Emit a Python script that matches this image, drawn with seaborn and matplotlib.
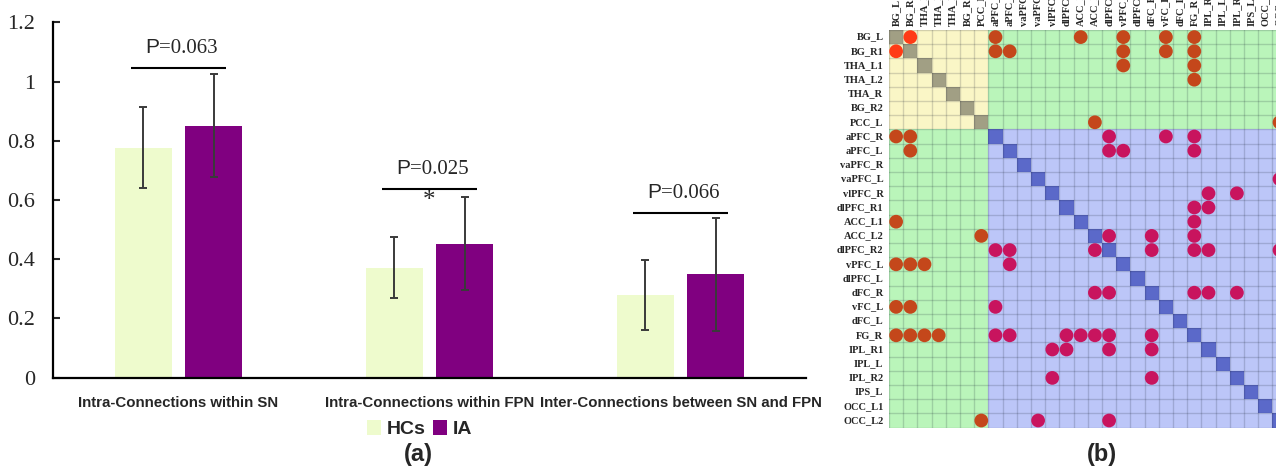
import numpy as np
import pandas as pd
import matplotlib
matplotlib.use("Agg")
import matplotlib.pyplot as plt
from matplotlib.colors import ListedColormap
import seaborn as sns

# ---------------- panel (a): mean connection strength per group ----------------
categories = [
    "Intra-Connections within SN",
    "Intra-Connections within FPN",
    "Inter-Connections between SN and FPN",
]
groups = ["HCs", "IA"]
hcs_mean = [0.777, 0.372, 0.279]
hcs_sd = [0.136, 0.104, 0.117]
ia_mean = [0.851, 0.453, 0.349]
ia_sd = [0.173, 0.157, 0.190]
p_values = ["0.063", "0.025", "0.066"]
significant = [False, True, False]
y_ticks = [0, 0.2, 0.4, 0.6, 0.8, 1.0, 1.2]
y_tick_labels = ["0", "0.2", "0.4", "0.6", "0.8", "1", "1.2"]

# ---------------- panel (b): connectivity matrix ----------------
sn_nodes = ["BG_L", "BG_R1", "THA_L1", "THA_L2", "THA_R", "BG_R2", "PCC_L"]
fpn_nodes = ["aPFC_R", "aPFC_L", "vaPFC_R", "vaPFC_L", "vlPFC_R", "dlPFC_R1",
             "ACC_L1", "ACC_L2", "dlPFC_R2", "vPFC_L", "dlPFC_L", "dFC_R",
             "vFC_L", "dFC_L", "FG_R", "IPL_R1", "IPL_L", "IPL_R2", "IPS_L",
             "OCC_L1", "OCC_L2"]
edge_from = ["BG_L", "BG_L", "BG_L", "BG_L", "BG_L", "BG_L",
             "BG_R1", "BG_R1", "BG_R1", "BG_R1", "BG_R1",
             "THA_L1", "THA_L1", "THA_L2", "PCC_L", "PCC_L",
             "aPFC_R", "aPFC_R", "aPFC_R", "aPFC_L", "aPFC_L", "aPFC_L",
             "vaPFC_L", "vlPFC_R", "vlPFC_R", "dlPFC_R1", "dlPFC_R1", "ACC_L1",
             "ACC_L2", "ACC_L2", "ACC_L2",
             "dlPFC_R2", "dlPFC_R2", "dlPFC_R2", "dlPFC_R2",
             "dFC_R", "dFC_R", "dFC_R"]
edge_to = ["BG_R1", "aPFC_R", "ACC_L1", "vPFC_L", "vFC_L", "FG_R",
           "aPFC_R", "aPFC_L", "vPFC_L", "vFC_L", "FG_R",
           "vPFC_L", "FG_R", "FG_R", "ACC_L2", "OCC_L2",
           "dlPFC_R2", "vFC_L", "FG_R", "dlPFC_R2", "vPFC_L", "FG_R",
           "OCC_L2", "IPL_R1", "IPL_R2", "FG_R", "IPL_R1", "FG_R",
           "dlPFC_R2", "dFC_R", "FG_R",
           "dFC_R", "FG_R", "IPL_R1", "OCC_L2",
           "FG_R", "IPL_R1", "IPL_R2"]

# ---------------- styling ----------------
sns.set_style("white")
plt.rcParams["font.family"] = ["Liberation Sans", "DejaVu Sans"]
SANS = "Liberation Sans"
SERIF = "Liberation Serif"

hc_color = "#EEFBCD"
ia_color = "#800080"
err_color = "#3A3A3A"

fig = plt.figure(figsize=(12.76, 4.72), dpi=100)
W, H = 1276.0, 472.0

# ================= panel (a) =================
ax1 = fig.add_axes([53 / W, 1 - 377.7 / H, 753 / W, 355.4 / H])

bars = pd.DataFrame({
    "category": categories * 2,
    "group": [groups[0]] * 3 + [groups[1]] * 3,
    "value": hcs_mean + ia_mean,
})
sns.barplot(data=bars, x="category", y="value", hue="group",
            palette=[hc_color, ia_color], width=0.56, gap=0.19,
            errorbar=None, saturation=1, linewidth=0, ax=ax1)

# standard-deviation whiskers on top of each bar
for container, sds in zip(ax1.containers, [hcs_sd, ia_sd]):
    for bar, sd in zip(container, sds):
        cx = bar.get_x() + bar.get_width() / 2
        ax1.errorbar(cx, bar.get_height(), yerr=sd, fmt="none",
                     ecolor=err_color, elinewidth=1.4, capsize=3,
                     capthick=1.4, zorder=5)

ax1.set_xlim(-0.5, 2.5)
ax1.set_ylim(0, 1.2)
ax1.set_yticks(y_ticks)
ax1.set_yticklabels(y_tick_labels, fontfamily=SERIF, fontsize=16)
ax1.set_xticks(range(len(categories)))
ax1.set_xticklabels(categories, fontfamily=SANS, fontweight="bold", fontsize=10.8)
ax1.tick_params(axis="y", direction="in", length=5, width=1.5, pad=13,
                left=True)
ax1.tick_params(axis="x", length=0, pad=13)
ax1.set_xlabel("")
ax1.set_ylabel("")
for side in ["top", "right"]:
    ax1.spines[side].set_visible(False)
for side in ["left", "bottom"]:
    ax1.spines[side].set_color("black")
    ax1.spines[side].set_linewidth(1.6)

# significance brackets with p-values
bracket_y = [1.046, 0.636, 0.555]
for i, (p, yb, sig) in enumerate(zip(p_values, bracket_y, significant)):
    ax1.plot([i - 0.19, i + 0.19], [yb, yb], color="black", lw=1.5,
             solid_capstyle="butt")
    ax1.annotate("P", xy=(i, yb), xytext=(-14, 11), textcoords="offset points",
                 ha="right", va="baseline", fontfamily=SANS, fontsize=15)
    ax1.annotate("=" + p, xy=(i, yb), xytext=(-14, 11),
                 textcoords="offset points", ha="left", va="baseline",
                 fontfamily=SERIF, fontsize=15)
    if sig:
        ax1.annotate("*", xy=(i, yb), xytext=(0, -13),
                     textcoords="offset points", ha="center", va="baseline",
                     fontfamily=SERIF, fontsize=18)

sns.move_legend(ax1, "center", bbox_to_anchor=(0.487, -0.145), ncol=2,
                frameon=False, title=None, handlelength=0.75,
                handleheight=0.75, handletextpad=0.3, columnspacing=0.35,
                prop={"family": SANS, "weight": "bold", "size": 14})

fig.text(418 / W, 1 - 455 / H, "(a)", ha="center", va="center",
         fontfamily=SANS, fontweight="bold", fontsize=17)

# ================= panel (b) =================
nodes = sn_nodes + fpn_nodes
n = len(nodes)
n_sn = len(sn_nodes)
cell = 14.2
ax2 = fig.add_axes([889 / W, 1 - (30 + n * cell) / H, n * cell / W, n * cell / H])

# region codes: 0 SN-SN, 1 SN-FPN, 2 FPN-FPN, 3 SN diagonal, 4 FPN diagonal
is_sn = np.array([k < n_sn for k in range(n)])
codes = np.where(is_sn[:, None] & is_sn[None, :], 0,
                 np.where(~is_sn[:, None] & ~is_sn[None, :], 2, 1)).astype(float)
for k in range(n):
    codes[k, k] = 3 if is_sn[k] else 4
region_cmap = ListedColormap(["#FAF6C6", "#BAF5BA", "#BCC6F8", "#A19F84", "#5B69C9"])
sns.heatmap(pd.DataFrame(codes, index=nodes, columns=nodes), cmap=region_cmap,
            vmin=-0.5, vmax=4.5, cbar=False, linewidths=0, square=False,
            xticklabels=nodes, yticklabels=nodes, ax=ax2)

for k in range(n + 1):
    ax2.axhline(k, color=(0.05, 0.08, 0.15, 0.17), lw=1.0, zorder=3)
    ax2.axvline(k, color=(0.05, 0.08, 0.15, 0.17), lw=1.0, zorder=3)

# significant connections, mirrored across the diagonal
idx = {name: k for k, name in enumerate(nodes)}
rows, cols, kinds = [], [], []
for a, b in zip(edge_from, edge_to):
    ia_, ib_ = idx[a], idx[b]
    if is_sn[ia_] and is_sn[ib_]:
        kind = "SN"
    elif not is_sn[ia_] and not is_sn[ib_]:
        kind = "FPN"
    else:
        kind = "SN-FPN"
    for r, c in [(ia_, ib_), (ib_, ia_)]:
        rows.append(r + 0.5)
        cols.append(c + 0.5)
        kinds.append(kind)
dots = pd.DataFrame({"col": cols, "row": rows, "kind": kinds})
sns.scatterplot(data=dots, x="col", y="row", hue="kind",
                palette={"SN": "#FF3B16", "SN-FPN": "#C4471B", "FPN": "#C8145E"},
                s=98, linewidth=0, legend=False, zorder=4, ax=ax2)

ax2.set_xlim(0, n)
ax2.set_ylim(n, 0)
ax2.set_xlabel("")
ax2.set_ylabel("")
ax2.xaxis.tick_top()
ax2.set_xticks(np.arange(n) + 0.5)
ax2.set_xticklabels(nodes, rotation=90, fontfamily=SERIF, fontweight="bold",
                    fontsize=7.5)
ax2.set_yticks(np.arange(n) + 0.5)
ax2.set_yticklabels(nodes, rotation=0, fontfamily=SERIF, fontweight="bold",
                    fontsize=7.5)
ax2.tick_params(axis="both", length=0)
ax2.tick_params(axis="x", pad=3)
ax2.tick_params(axis="y", pad=4)
for s in ax2.spines.values():
    s.set_visible(False)

fig.text(1102 / W, 1 - 455 / H, "(b)", ha="center", va="center",
         fontfamily=SANS, fontweight="bold", fontsize=17)

fig.savefig("out.png", dpi=100)
